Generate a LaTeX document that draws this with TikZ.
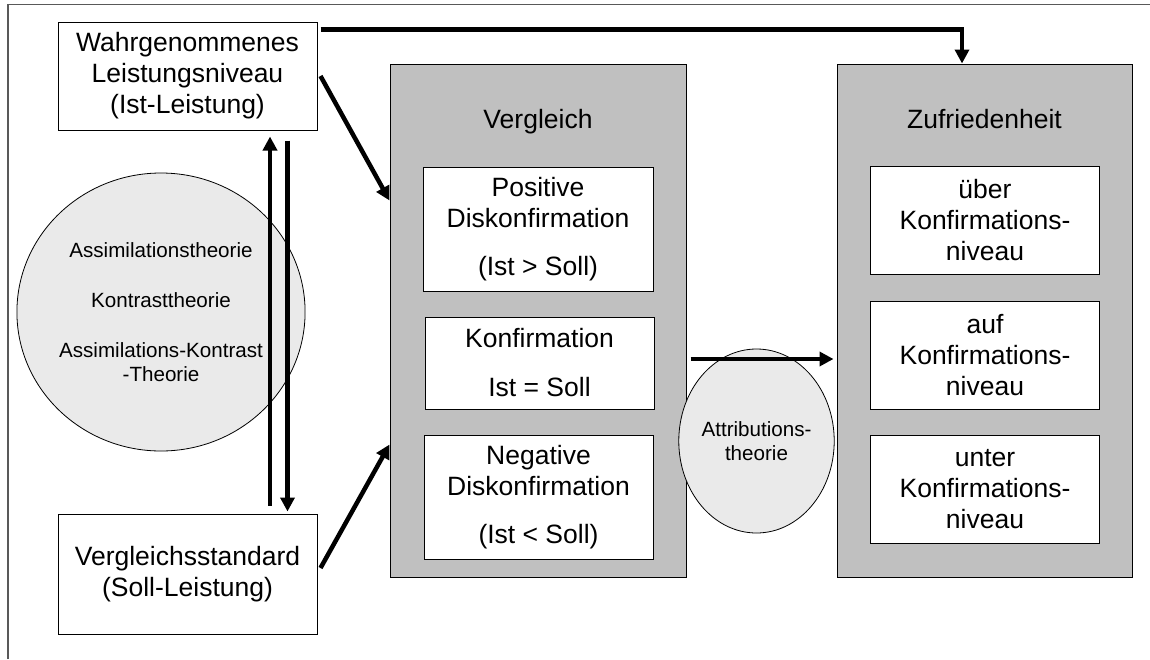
\documentclass[tikz,border=0pt]{standalone}
\usepackage{fontspec}
\setmainfont{Liberation Sans}
\usetikzlibrary{arrows.meta,shapes.geometric}
\definecolor{panelgray}{RGB}{192,192,192}
\definecolor{theorygray}{RGB}{234,234,234}
\tikzset{
  big/.style={font=\fontsize{26.5}{31}\selectfont},
  small/.style={font=\fontsize{20.6}{24}\selectfont},
  framebox/.style={draw, line width=1pt, fill=white, align=center, inner sep=0pt, big},
  panel/.style={draw, line width=1pt, fill=panelgray, minimum width=296pt, minimum height=513pt},
  theory/.style={ellipse, draw, line width=0.8pt, fill=theorygray, inner sep=0pt, align=center, small},
  flow/.style={line width=4.5pt, -{Triangle[length=14pt,width=14pt]}},
}

\begin{document}
\begin{tikzpicture}[x=1pt,y=-1pt]
\useasboundingbox (0,0) rectangle (1150,659);
\draw[black!65, line width=1.2pt] (8,659) -- (8,4.5) -- (1150,4.5);

\node[framebox, minimum width=259pt, minimum height=108pt] (ist) at (187.5,76) {Wahrgenommenes\\Leistungsniveau\\(Ist-Leistung)};
\node[framebox, minimum width=259pt, minimum height=120pt] (soll) at (187.5,574) {Vergleichsstandard\\(Soll-Leistung)};
\node[theory, minimum width=248pt, minimum height=278pt] (theorien) at (161,312) {Assimilationstheorie\\[26pt]Kontrasttheorie\\[26pt]Assimilations-Kontrast\\-Theorie};

\node[panel] (vergleich) at (538,320.5) {};
\node[big, anchor=base] (vergleich-titel) at (538,128) {Vergleich};
\node[framebox, minimum width=230pt, minimum height=124pt] (positiv) at (538,229) {Positive\\Diskonfirmation\\[17pt](Ist > Soll)};
\node[framebox, minimum width=229pt, minimum height=92pt] (konfirmation) at (539.5,363) {Konfirmation\\[18pt]Ist = Soll};
\node[framebox, minimum width=229pt, minimum height=124pt] (negativ) at (538.5,497) {Negative\\Diskonfirmation\\[17pt](Ist < Soll)};

\node[panel, minimum width=295pt] (zufriedenheit) at (984.5,320.5) {};
\node[big, anchor=base] (zufriedenheit-titel) at (984.5,128) {Zufriedenheit};
\foreach \n/\y/\w in {ueber/220.5/über, auf/355/auf, unter/489/unter}
  \node[framebox, minimum width=229pt, minimum height=108pt] (\n) at (985,\y) {\w\\Konfirmations-\\niveau};

\node[theory, minimum width=127pt, minimum height=184pt] (attribution) at (756.5,441) {Attributions-\\theorie};

\draw[flow] ([xshift=3pt,yshift=-8pt]ist.north east) -| ([xshift=-22.5pt]zufriedenheit.north);
\draw[flow] ([xshift=3pt]ist.east) -- ([yshift=120pt]vergleich.west);
\draw[flow] ([xshift=3pt,yshift=6pt]soll.east) -- ([yshift=-124pt]vergleich.west);
\draw[flow] ([xshift=82.5pt,yshift=8pt]soll.north) -- ([xshift=82.5pt,yshift=-6pt]ist.south);
\draw[flow] ([xshift=100pt,yshift=-10pt]ist.south) -- ([xshift=100pt,yshift=2pt]soll.north);
\draw[flow] ([xshift=4pt,yshift=-38.5pt]vergleich.east) -- ([xshift=-3pt,yshift=-38.5pt]zufriedenheit.west);
\end{tikzpicture}
\end{document}
